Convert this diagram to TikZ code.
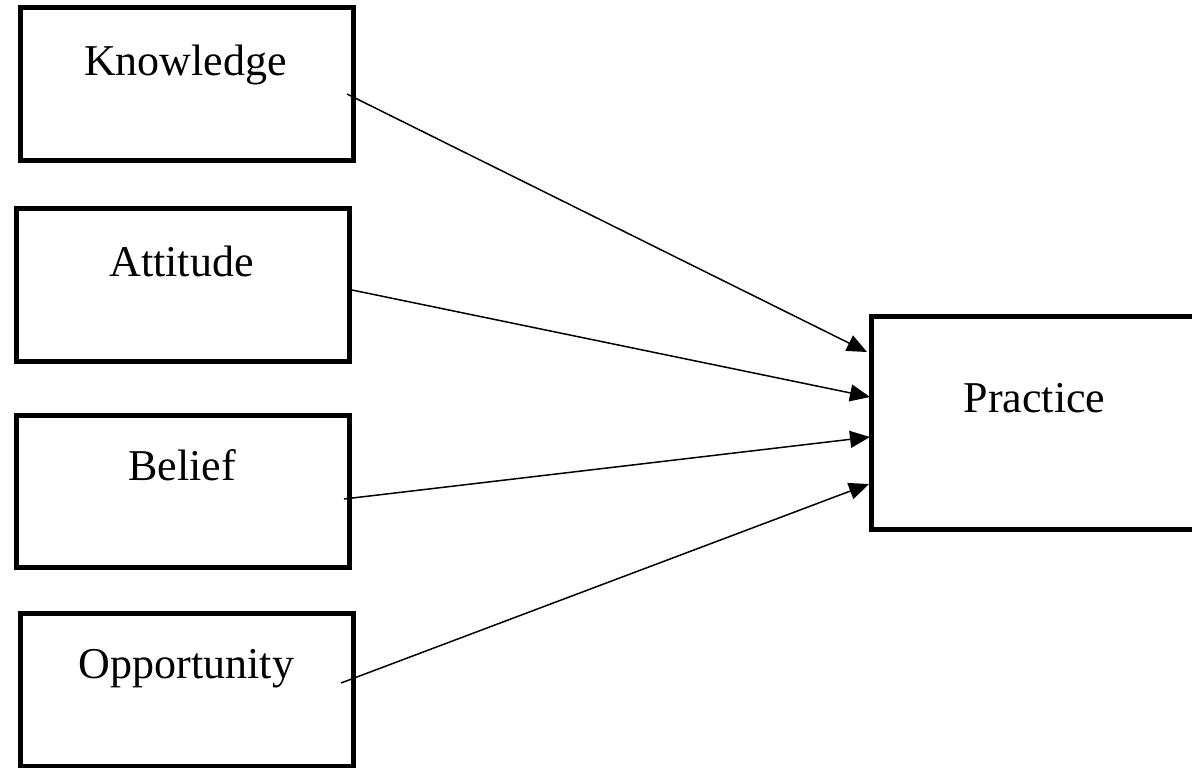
\documentclass[tikz,border=0pt]{standalone}
\usepackage{fontspec}
\setmainfont{Liberation Serif}
\usetikzlibrary{arrows.meta}
\begin{document}
\begin{tikzpicture}[x=1pt,y=-1pt,
  box/.style={draw=black,line width=5pt,fill=white,rectangle,inner sep=0pt,outer sep=0pt,anchor=north west},
  lbl/.style={anchor=base,inner sep=0pt,font=\fontsize{44}{52}\selectfont},
  conn/.style={line width=1.5pt,-{Triangle[length=20pt,width=17pt]}}]
\useasboundingbox (0,0) rectangle (1192,768);
\fill[white] (0,0) rectangle (1192,768);
% boxes
\node[box,minimum width=332.5pt,minimum height=152pt] (k) at (20.5,8) {};
\node[box,minimum width=333pt,minimum height=153pt] (a) at (16,208) {};
\node[box,minimum width=333pt,minimum height=152pt] (b) at (16,415) {};
\node[box,minimum width=332.5pt,minimum height=153pt] (o) at (20.5,613) {};
\node[box,minimum width=330pt,minimum height=213pt] (p) at (871,316) {};
% labels
\node[lbl] (kt) at (185.5,76) {Knowledge};
\node[lbl] (at) at (181.5,276) {Attitude};
\node[lbl] (bt) at (182,480) {Belief};
\node[lbl] (ot) at (186.5,678) {Opportunity};
\node[lbl] (pt) at (1034.5,412) {Practice};
% connector ends
\coordinate (ks) at (347,94);
\coordinate (as) at (352,290);
\coordinate (bs) at (344,499);
\coordinate (os) at (341,683);
\coordinate (pk) at (867,352);
\coordinate (pa) at (870,397);
\coordinate (pb) at (870,437);
\coordinate (po) at (869,484);
\draw[conn] (ks) -- (pk);
\draw[conn] (as) -- (pa);
\draw[conn] (bs) -- (pb);
\draw[conn] (os) -- (po);
\end{tikzpicture}
\end{document}
